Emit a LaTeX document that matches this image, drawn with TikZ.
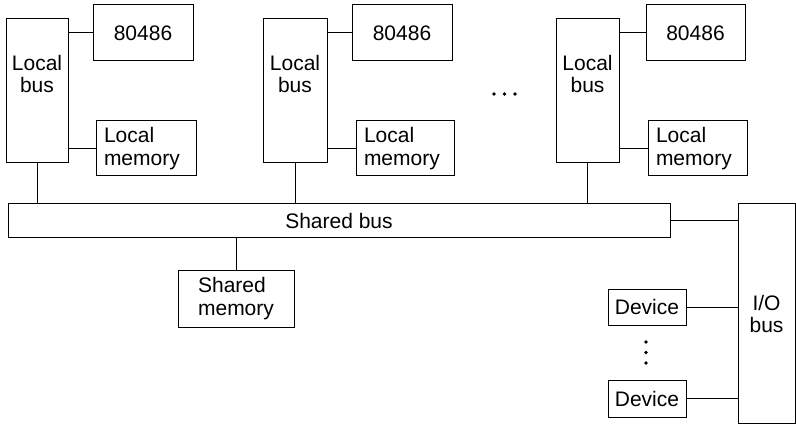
\documentclass[tikz,border=0pt]{standalone}
\usepackage{fontspec}
\setmainfont{Liberation Sans}
\begin{document}
\begin{tikzpicture}[x=1pt,y=-1pt,line width=1pt,
  box/.style={draw,inner sep=0pt,font=\fontsize{21}{23.5}\selectfont},
  txt/.style={inner sep=0pt,font=\fontsize{21}{22}\selectfont,align=center},
  dot/.style={circle,fill,inner sep=0pt,minimum size=3.6pt}]
\useasboundingbox (0,0) rectangle (796,425);
% local buses
\foreach \i/\xa/\xb/\ca/\cb/\ma/\mb in {1/6/68/93/193/96/196, 2/263/327/352/452/356/454, 3/556/619/646/745/648/747}{
  \node[box,minimum width={\xb-\xa},minimum height=144] (lb\i) at ({(\xa+\xb)/2},91) {};
  \node[txt,anchor=north] (lbt\i) at ({(\xa+\xb)/2},55) {Local\\bus};
  \node[box,minimum width={\cb-\ca},minimum height=56] (cpu\i) at ({(\ca+\cb)/2},33) {80486};
  \node[box,inner xsep=8pt,text width={\mb-\ma-16},align=left,minimum height=55] (lm\i) at ({(\ma+\mb)/2},148.5) {Local\\memory};
}
\node[box,minimum width=662,minimum height=34] (sb) at (339,221) {Shared bus};
\node[box,minimum width=116,minimum height=57,align=left] (sm) at (236,298.5) {Shared\\memory};
\node[box,minimum width=57,minimum height=219] (io) at (766.5,313.5) {};
\node[txt] (iot) at (766.5,313.5) {I/O\\bus};
\node[box,minimum width=78,minimum height=36] (d1) at (647,307) {Device};
\node[box,minimum width=78,minimum height=37] (d2) at (647,398.5) {Device};
% connectors
\foreach \i in {1,2,3}{
  \draw (lb\i.east |- cpu\i) -- (cpu\i.west);
  \draw (lb\i.east |- 0,149) -- (lm\i.west |- 0,149);
  \draw (lb\i.south) -- (sb.north -| lb\i.south);
}
\draw (sm.north) -- (sm.north |- sb.south);
\draw (sb.east) -- (io.west |- sb.east);
\draw (d1.east) -- (io.west |- d1.east);
\draw (d2.east) -- (io.west |- d2.east);
% ellipses
\node[dot] (e1) at (494,94) {};
\node[dot] (e2) at (504.5,94) {};
\node[dot] (e3) at (515,94) {};
\node[dot] (v1) at (646,342) {};
\node[dot] (v2) at (646,352.5) {};
\node[dot] (v3) at (646,363) {};
\end{tikzpicture}
\end{document}
